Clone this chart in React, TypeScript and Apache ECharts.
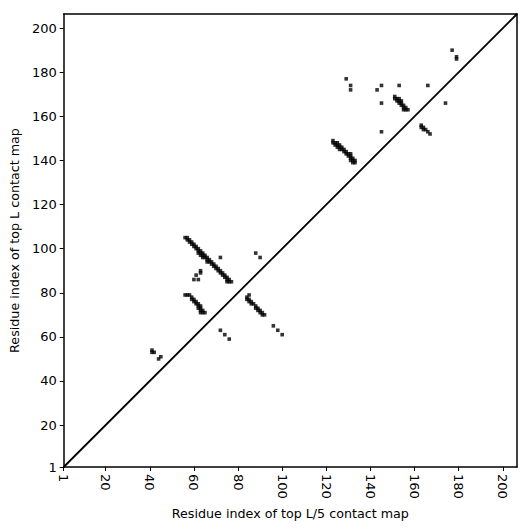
import React, { useEffect, useRef } from "react";
import * as echarts from "echarts";

const tickValues = [1, 20, 40, 60, 80, 100, 120, 140, 160, 180, 200];
const axisMin = 1;
const axisMax = 206.4;

const bandA: number[][] = [
  [56, 105], [57, 105], [57, 104], [58, 104], [58, 103], [59, 103], [59, 102], [60, 102],
  [60, 101], [61, 101], [61, 100], [62, 100], [62, 99], [63, 99], [63, 98], [64, 98],
  [64, 97], [63, 97], [65, 97], [65, 96], [66, 96], [66, 95], [67, 95], [68, 94], [67, 94],
  [69, 93], [68, 93], [70, 92], [69, 92], [71, 91], [70, 91], [72, 90], [71, 90], [73, 89],
  [72, 89], [74, 88], [73, 88], [75, 87], [74, 87], [76, 86], [75, 86], [76, 85], [77, 85],
  [75, 85], [62, 98], [64, 96], [66, 94],
];
const bandB: number[][] = [
  [56, 79], [57, 79], [58, 79], [59, 78], [59, 77], [60, 77], [60, 76], [61, 76], [61, 75],
  [62, 75], [62, 74], [63, 74], [63, 73], [62, 73], [64, 72], [63, 72], [64, 71], [65, 71], [63, 71],
];
const bandC: number[][] = [
  [84, 78], [84, 77], [85, 77], [85, 76], [86, 76], [87, 75], [86, 75], [88, 74], [88, 73],
  [89, 73], [89, 72], [90, 72], [90, 71], [91, 71], [91, 70], [92, 70],
];
const bandD: number[][] = [
  [123, 149], [123, 148], [124, 148], [124, 147], [125, 148], [125, 147], [125, 146],
  [126, 147], [126, 146], [126, 145], [127, 146], [127, 145], [128, 145], [128, 144],
  [129, 144], [129, 143], [130, 143], [130, 142], [131, 143], [131, 142], [131, 141],
  [132, 141], [132, 140], [131, 140], [133, 140], [133, 139], [132, 139],
];
const bandE: number[][] = [
  [151, 169], [151, 168], [152, 168], [152, 167], [153, 168], [153, 167], [153, 166],
  [154, 167], [154, 166], [154, 165], [155, 165], [155, 164], [156, 164], [156, 163],
  [157, 163], [155, 163],
];
const bandF: number[][] = [
  [163, 156], [163, 155], [164, 155], [165, 154], [166, 153], [167, 152], [164, 154],
];
const isolated: number[][] = [
  [72, 96], [63, 90], [63, 89], [61, 88], [60, 86], [62, 86],
  [72, 63], [74, 61], [76, 59],
  [85, 79], [88, 98], [90, 96], [96, 65], [98, 63], [100, 61],
  [41, 54], [41, 53], [42, 53], [44, 50], [45, 51],
  [129, 177], [131, 174], [131, 172], [143, 172], [145, 174], [145, 166], [145, 153],
  [153, 174], [166, 174], [174, 166], [177, 190], [179, 187], [179, 186],
];
const diagonal: number[][] = [
  [axisMin, axisMin],
  [axisMax, axisMax],
];

export default function App() {
  const ref = useRef<HTMLDivElement>(null);
  useEffect(() => {
    if (!ref.current) return;
    const chart = echarts.init(ref.current, null, { renderer: "svg" });
    const font = "DejaVu Sans";
    const allPoints = [
      ...bandA, ...bandB, ...bandC, ...bandD, ...bandE, ...bandF, ...isolated,
    ];
    const baseAxis = {
      type: "value" as const,
      min: axisMin,
      max: axisMax,
      splitLine: { show: false },
    };
    chart.setOption({
      animation: false,
      backgroundColor: "#ffffff",
      grid: { left: 63, top: 14, right: 14, bottom: 64, containLabel: false },
      xAxis: [
        {
          ...baseAxis,
          position: "bottom",
          name: "Residue index of top L/5 contact map",
          nameLocation: "middle",
          nameGap: 38,
          nameTextStyle: { fontFamily: font, fontSize: 12.7, color: "#000" },
          axisLine: { show: true, onZero: false, lineStyle: { color: "#000", width: 1.5 } },
          axisTick: { show: true, length: 4, customValues: tickValues, lineStyle: { color: "#000", width: 1 } },
          axisLabel: {
            customValues: tickValues,
            rotate: -90,
            margin: 7,
            fontFamily: font,
            fontSize: 13,
            color: "#000",
          },
        },
        {
          ...baseAxis,
          position: "top",
          axisLine: { show: true, onZero: false, lineStyle: { color: "#000", width: 1.5 } },
          axisTick: { show: false },
          axisLabel: { show: false },
        },
      ],
      yAxis: [
        {
          ...baseAxis,
          position: "left",
          name: "Residue index of top L contact map",
          nameLocation: "middle",
          nameGap: 36,
          nameTextStyle: { fontFamily: font, fontSize: 12.7, color: "#000" },
          axisLine: { show: true, onZero: false, lineStyle: { color: "#000", width: 1.5 } },
          axisTick: { show: true, length: 4, customValues: tickValues, lineStyle: { color: "#000", width: 1 } },
          axisLabel: {
            customValues: tickValues,
            margin: 7,
            fontFamily: font,
            fontSize: 13,
            color: "#000",
          },
        },
        {
          ...baseAxis,
          position: "right",
          axisLine: { show: true, onZero: false, lineStyle: { color: "#000", width: 1.5 } },
          axisTick: { show: false },
          axisLabel: { show: false },
        },
      ],
      series: [
        {
          type: "line",
          data: diagonal,
          symbol: "none",
          lineStyle: { color: "#000", width: 1.8 },
          silent: true,
          z: 1,
        },
        {
          type: "scatter",
          data: allPoints,
          symbol: "rect",
          symbolSize: 3.6,
          itemStyle: { color: "#000" },
          z: 2,
        },
      ],
    });
    return () => chart.dispose();
  }, []);
  return (
    <div
      ref={ref}
      style={{ position: "fixed", left: 0, top: 0, width: 531, height: 531 }}
    />
  );
}
